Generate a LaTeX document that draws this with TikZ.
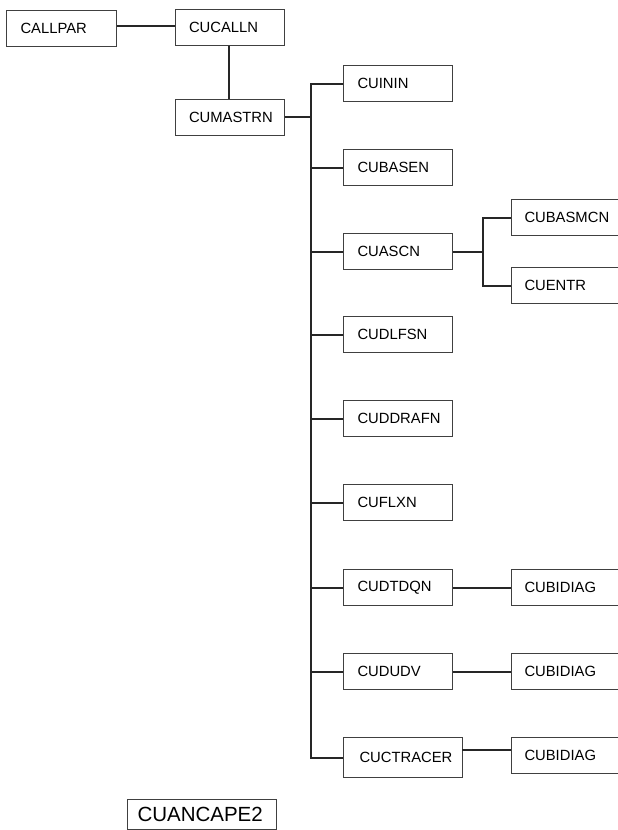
\documentclass[tikz,border=0pt]{standalone}
\usepackage{fontspec}
\setmainfont{Liberation Sans}
\begin{document}
\begin{tikzpicture}[x=1pt,y=-1pt,
  box/.style={draw=black!75, line width=1pt, anchor=north west, inner xsep=14pt, inner ysep=0pt,
     minimum height=36pt, text width=81pt, align=left, font=\fontsize{14.8}{16}\selectfont},
  conn/.style={line width=2pt, black!85, line join=miter}]
\useasboundingbox (0,0) rectangle (618,830);
\clip (0,0) rectangle (618,830);
\node[box, text width=82pt] (callpar) at (6,9.5) {CALLPAR};
\node[box] (cucalln) at (174.5,8.5) {CUCALLN};
\node[box] (cumastrn) at (174.5,99) {CUMASTRN};
\node[box] (cuinin) at (343,65) {CUININ};
\node[box] (cubasen) at (343,149) {CUBASEN};
\node[box] (cuascn) at (343,233) {CUASCN};
\node[box] (cudlfsn) at (343,316) {CUDLFSN};
\node[box] (cuddrafn) at (343,400) {CUDDRAFN};
\node[box] (cuflxn) at (343,484) {CUFLXN};
\node[box] (cudtdqn) at (343,569) {CUDTDQN};
\node[box] (cududv) at (343,653) {CUDUDV};
\node[box, inner xsep=16pt, text width=87pt, minimum height=40pt] (cuctracer) at (343,737) {CUCTRACER};
\node[box, inner xsep=13pt, text width=83pt] (cubasmcn) at (511,199) {CUBASMCN};
\node[box, inner xsep=13pt, text width=83pt] (cuentr) at (511,267) {CUENTR};
\node[box, inner xsep=13pt, text width=83pt] (bidiaga) at (511,569) {CUBIDIAG};
\node[box, inner xsep=13pt, text width=83pt] (bidiagb) at (511,653) {CUBIDIAG};
\node[box, inner xsep=13pt, text width=83pt] (bidiagc) at (511,737) {CUBIDIAG};
\node[box, inner xsep=10pt, text width=129pt, minimum height=30pt, font=\fontsize{20.5}{22}\selectfont] (cuancape) at (127,799) {CUANCAPE2};
% junctions
\coordinate (jtop) at (311,83);
\coordinate (jbot) at (311,758);
\coordinate (jasc) at (483,251);
\coordinate (jtr) at (462,750);
% connectors
\draw[conn] (callpar.east |- 0,26) -- (cucalln.west |- 0,26);
\draw[conn] (cucalln.south -| 229,0) -- (cumastrn.north -| 229,0);
\draw[conn] (cumastrn.east |- 0,117) -- (jtop |- 0,117);
\draw[conn] (cuinin.west) -| (jbot) -- (cuctracer.west |- jbot);
\foreach \n in {cubasen,cuascn,cudlfsn,cuddrafn,cuflxn,cudtdqn,cududv}
  \draw[conn] (jtop |- \n.west) -- (\n.west);
\draw[conn] (cuascn.east) -- (cuascn.east -| jasc);
\draw[conn] (cubasmcn.west) -| (jasc) |- (cuentr.west);
\draw[conn] (cudtdqn.east) -- (bidiaga.west);
\draw[conn] (cududv.east) -- (bidiagb.west);
\draw[conn] (jtr) -- (bidiagc.west |- jtr);
\end{tikzpicture}
\end{document}
